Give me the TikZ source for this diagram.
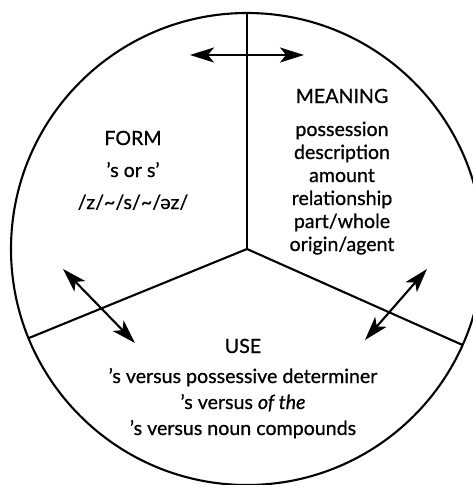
\documentclass[tikz,border=0pt]{standalone}
\usepackage{fontspec}
\setmainfont{Lato}[FakeBold=0.7]
\usetikzlibrary{arrows.meta,calc}
\begin{document}
\begin{tikzpicture}[x=1pt,y=1pt,
  ln/.style={line width=2.1pt},
  tip/.tip={Stealth[length=24pt,width=15pt,inset=6pt]},
  dbl/.style={line width=2.1pt,{tip}-{tip}},
  lbl/.style={font=\fontsize{19.6}{23}\selectfont, inner sep=0pt, anchor=base}]
\useasboundingbox (0,0) rectangle (473,-485);
\coordinate (c) at (247,-249);
\begin{scope}
  \clip (0,0) rectangle (473,-485);
  \draw[ln] (c) circle (236);
\end{scope}
\coordinate (top) at ($(c)+(90:236)$);
\coordinate (lft) at ($(c)+(202.2:236)$);
\coordinate (rgt) at ($(c)+(336:236)$);
\draw[ln] (c) -- (top);
\draw[ln] (c) -- (lft);
\draw[ln] (c) -- (rgt);
% arrows
\coordinate (t1) at (190,-55);
\coordinate (t2) at (304,-55);
\coordinate (l1) at (63,-269);
\coordinate (l2) at (135,-343);
\coordinate (r1) at (427,-269);
\coordinate (r2) at (365,-340);
\draw[dbl] (t1) -- (t2);
\draw[dbl] (l1) -- (l2);
\draw[dbl] (r1) -- (r2);
% FORM
\node[lbl] (f0) at (133,-145) {FORM};
\node[lbl] (f1) at (133,-177) {’s or s’};
\node[lbl] (f2) at (133,-209) {/z/\char"007E/s/\char"007E/əz/};
% MEANING
\node[lbl] (m0) at (342,-103) {MEANING};
\node[lbl] (m1) at (342,-136) {possession};
\node[lbl] (m2) at (342,-159) {description};
\node[lbl] (m3) at (342,-182) {amount};
\node[lbl] (m4) at (342,-205) {relationship};
\node[lbl] (m5) at (342,-228) {part/whole};
\node[lbl] (m6) at (342,-251) {origin/agent};
% USE
\node[lbl] (u0) at (243,-353) {USE};
\node[lbl] (u1) at (243,-383) {’s versus possessive determiner};
\node[lbl] (u2) at (243,-409) {’s versus \textit{of the}};
\node[lbl] (u3) at (243,-435) {’s versus noun compounds};
\end{tikzpicture}
\end{document}
